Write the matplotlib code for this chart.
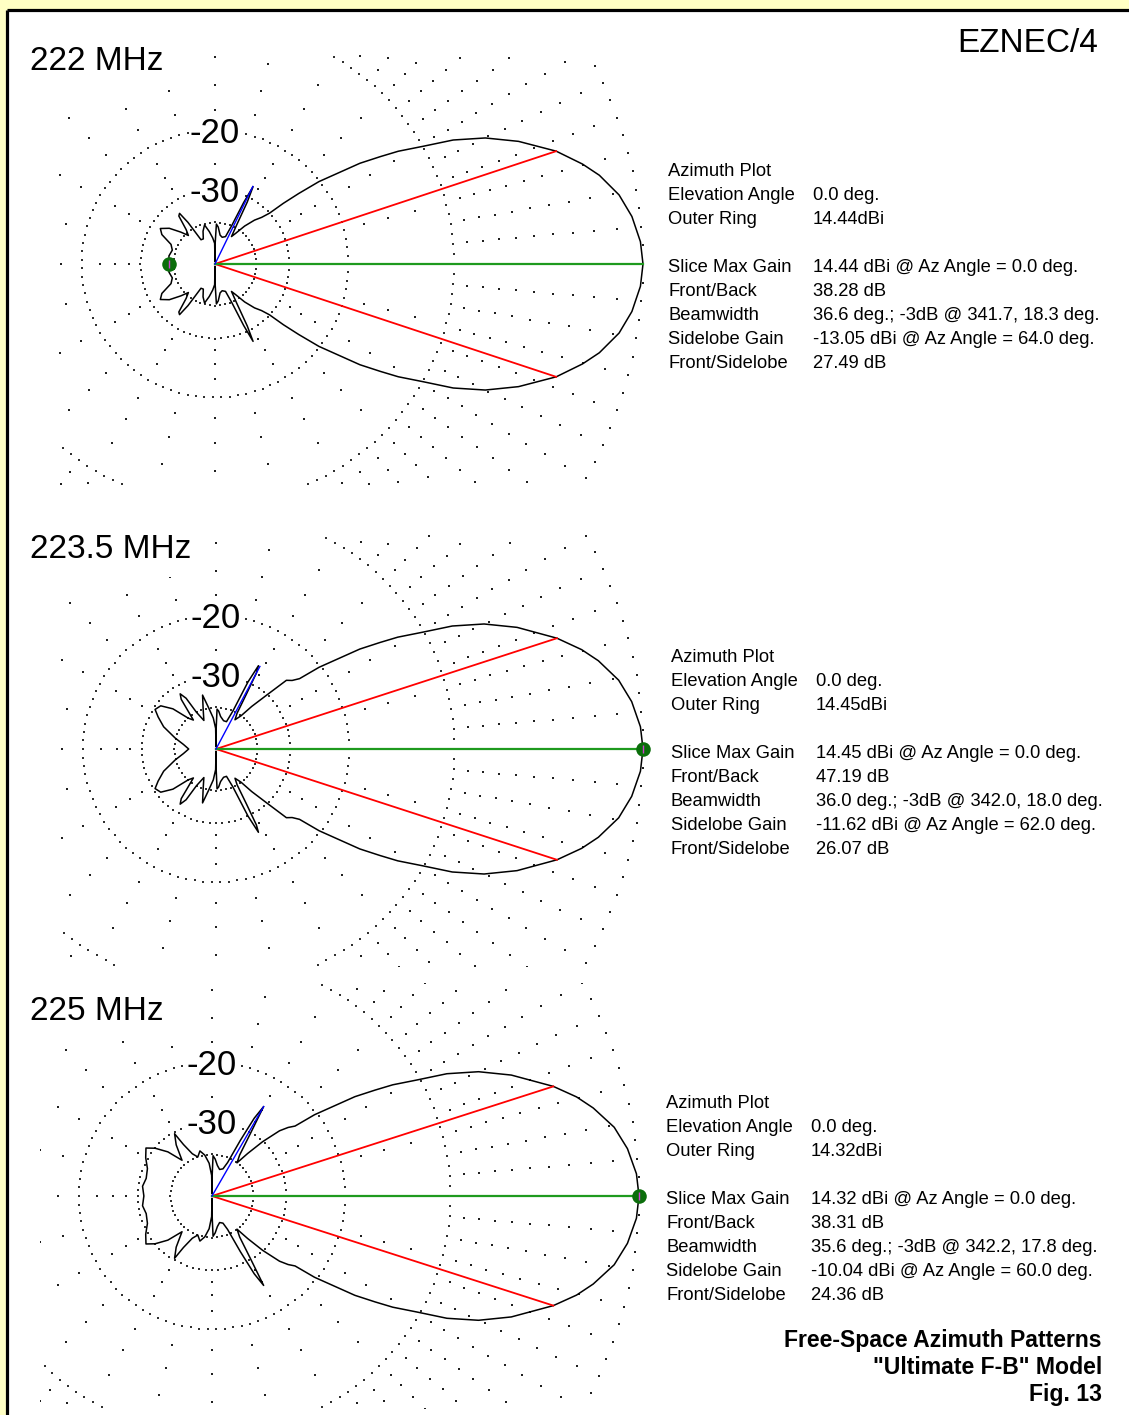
import numpy as np
import matplotlib
matplotlib.use("Agg")
import matplotlib.pyplot as plt

W, H, DPI = 1129, 1415, 100

# ---------------- data ----------------
freq_labels = ["222 MHz", "223.5 MHz", "225 MHz"]

# upper half of each azimuth pattern (azimuth deg, gain relative to max in dB); mirrored for lower half
p1_az = [0, 3, 6.5, 9.7, 13, 15.2, 18.3, 22, 25, 27.5, 29.5, 31.6, 33, 34.8, 38.4, 40.1, 41.6, 43, 45, 48,
         52, 56, 59, 61, 62.5, 63.8, 65, 66.5, 69, 75, 80, 85, 88, 89.5, 90, 91, 95, 100, 105, 110, 115,
         120, 123, 125, 127, 130, 133, 137, 142, 147, 151, 156, 162, 170, 180]
p1_db = [0, -0.08, -0.34, -0.74, -1.4, -2.0, -3.0, -4.6, -6.2, -8.0, -10.0, -11.8, -13.3, -15.2, -20.1,
         -23.4, -26.5, -30.0, -32.1, -34.0, -37.5, -42.0, -44.5, -38.7, -31.1, -27.5, -31.6, -40.0, -46.0,
         -47.0, -46.0, -42.0, -40.7, -52.0, -90.0, -52.0, -48.0, -44.0, -40.5, -43.0, -47.0, -46.8, -37.0,
         -33.2, -33.7, -38.7, -41.1, -38.0, -34.3, -32.3, -33.5, -37.5, -38.7, -38.0, -38.28]

p2_az = [0, 3, 6.5, 9.7, 13, 15.2, 18.0, 22, 25, 27.5, 29.5, 31.6, 33, 34.8, 38.4, 40.1, 42, 44.3, 47, 50,
         53, 57, 59.5, 61, 62, 63, 64.5, 66, 69, 75, 82, 86, 88.5, 89.5, 90, 91, 95, 100, 104, 108, 113,
         118, 120.5, 123, 125, 128, 132, 137, 142, 147, 151, 157, 165, 172, 180]
p2_db = [0, -0.08, -0.35, -0.76, -1.45, -2.05, -3.0, -4.7, -6.3, -8.1, -10.1, -11.9, -13.4, -15.3, -20.2,
         -23.4, -24.5, -25.2, -30.5, -35.0, -40.0, -43.0, -40.0, -33.0, -27.5, -26.07, -30.0, -40.0,
         -46.0, -46.0, -44.0, -41.5, -40.7, -52.0, -90.0, -52.0, -45.0, -40.0, -35.0, -40.0, -45.0,
         -40.0, -34.0, -32.1, -33.5, -42.1, -40.0, -34.0, -31.0, -30.4, -32.0, -34.6, -39.7, -44.0, -47.19]

p3_az = [0, 3, 6.5, 9.7, 13, 15.2, 17.8, 22, 25, 27.5, 29.5, 31.6, 33, 34.8, 38.4, 40.1, 42, 44, 47, 50,
         53, 56, 58.5, 60, 61.5, 63, 65, 68, 74, 80, 85, 88.5, 89.5, 90, 91, 95, 100, 105, 110, 115, 119,
         121, 125, 130, 135, 140, 144, 150, 157, 165, 172, 180]
p3_db = [0, -0.08, -0.36, -0.78, -1.5, -2.1, -3.0, -4.8, -6.4, -8.2, -10.2, -12.0, -13.5, -15.4, -20.3,
         -23.5, -24.5, -26.0, -30.0, -35.0, -40.0, -37.0, -30.0, -24.36, -27.0, -33.0, -42.0, -46.0,
         -47.0, -45.0, -42.0, -40.5, -52.0, -90.0, -52.0, -44.0, -40.0, -38.0, -40.0, -38.0, -34.0,
         -30.4, -33.0, -38.0, -33.0, -30.0, -28.4, -29.5, -31.0, -31.5, -31.0, -31.5]

az_up = [p1_az, p2_az, p3_az]
db_up = [p1_db, p2_db, p3_db]

max_gain = [14.44, 14.45, 14.32]
outer_ring = ["14.44dBi", "14.45dBi", "14.32dBi"]
front_back = [38.28, 47.19, 38.31]
bw_low = [341.7, 342.0, 342.2]
bw_high = [18.3, 18.0, 17.8]
beamwidth = [36.6, 36.0, 35.6]
side_gain = [-13.05, -11.62, -10.04]
side_az = [64.0, 62.0, 60.0]
front_side = [27.49, 26.07, 24.36]
marker_az = [180.0, 0.0, 0.0]
marker_db = [-38.28, 0.0, 0.0]

info_labels = ["Azimuth Plot", "Elevation Angle", "Outer Ring", "", "Slice Max Gain", "Front/Back",
               "Beamwidth", "Sidelobe Gain", "Front/Sidelobe"]

# grid: (levels in dB, angular step deg)
sparse_grid = [([0], 2.5), ([-1, -2, -3, -4, -5, -6, -7, -8, -9], 5),
               ([-12.5, -15, -17.5], 15), ([-22.5, -25, -27.5], 30)]
dense_rings = [-10, -20, -30, -40]
dense_spacing_px = [10, 8.5, 6.5, 5]
ring_labels = [-20, -30]

# ---------------- layout (pixels) ----------------
centers = [(215, 264), (216, 749), (212, 1196)]
R_px = [428, 427, 427]
clips = [(58, 55, 652, 486), (58, 535, 652, 966), (40, 983, 652, 1408)]
title_pos = [(30, 61), (30, 549), (30, 1011)]
info_x = [(668, 813), (671, 816), (666, 811)]
info_y0 = [172, 657, 1103]


def arrl(db):
    db = np.maximum(np.asarray(db, float), -90.0)
    return 0.89 ** (-db / 2.0)


def fx(px):
    return px / W


def fy(py):
    return 1 - py / H


fig = plt.figure(figsize=(W / DPI, H / DPI), dpi=DPI)
fig.patch.set_facecolor("#FFFFC4")
bg = fig.add_axes([0, 0, 1, 1])
bg.set_xlim(0, W)
bg.set_ylim(H, 0)
bg.axis("off")
bg.add_patch(plt.Rectangle((6.5, 9.5), W, H, facecolor="white", edgecolor="none"))
bg.plot([6.5, 6.5], [9.5, H], color="black", lw=2.3, solid_capstyle="butt")
bg.plot([6.5, W], [9.5, 9.5], color="black", lw=2.3, solid_capstyle="butt")

FONT = "Liberation Sans"

for i in range(3):
    cx, cy = centers[i]
    R = R_px[i]
    L, T, Rr, B = clips[i]
    ax = fig.add_axes([fx(L), fy(B), (Rr - L) / W, (B - T) / H])
    ax.set_xlim((L - cx) / R, (Rr - cx) / R)
    ax.set_ylim((cy - B) / R, (cy - T) / R)
    ax.axis("off")
    ax.patch.set_alpha(0)

    # sparse dot grid
    for levels, step in sparse_grid:
        angs = np.deg2rad(np.arange(0, 360, step))
        for lv in levels:
            r = arrl(lv)
            ax.scatter(r * np.cos(angs), r * np.sin(angs), s=1.6, marker="s", color="#202020",
                       linewidths=0, zorder=1)
    # dense dotted rings
    for lv, sp in zip(dense_rings, dense_spacing_px):
        r = arrl(lv)
        n = int(round(2 * np.pi * r * R / sp))
        angs = np.linspace(0, 2 * np.pi, n, endpoint=False)
        ax.scatter(r * np.cos(angs), r * np.sin(angs), s=1.4, marker="s", color="#303030",
                   linewidths=0, zorder=1)
    for lv in ring_labels:
        ax.text(0, arrl(lv) - 3.0 / R, f"{lv}", ha="center", va="center", fontsize=25, family=FONT,
                zorder=2, bbox=dict(facecolor="white", edgecolor="none", pad=0.5))

    # pattern
    a_up = np.array(az_up[i], float)
    d_up = np.array(db_up[i], float)
    az = np.concatenate([a_up, 360 - a_up[::-1][1:]])
    db = np.concatenate([d_up, d_up[::-1][1:]])
    r = arrl(db)
    th = np.deg2rad(az)
    ax.plot(r * np.cos(th), r * np.sin(th), color="black", lw=1.1, zorder=4)

    # -3 dB lines
    r3 = arrl(-3.0)
    for a in (bw_low[i], bw_high[i]):
        t = np.deg2rad(a)
        ax.plot([0, r3 * np.cos(t)], [0, r3 * np.sin(t)], color="#FF0000", lw=1.3, zorder=5)
    # max gain line
    ax.plot([0, 1], [0, 0], color="#1E9A1E", lw=1.6, zorder=5)
    # sidelobe line
    rs = arrl(side_gain[i] - max_gain[i])
    ts = np.deg2rad(side_az[i])
    ax.plot([0, rs * np.cos(ts)], [0, rs * np.sin(ts)], color="#0000FF", lw=1.0, zorder=5)
    # cursor marker
    rm = arrl(marker_db[i])
    tm = np.deg2rad(marker_az[i])
    ax.scatter([rm * np.cos(tm)], [rm * np.sin(tm)], s=110, color="#0B6E0B", zorder=6, linewidths=0,
               clip_on=False)
    ax.scatter([rm * np.cos(tm)], [rm * np.sin(tm)], s=40, marker="|", color="#D040D0", zorder=7,
               linewidths=1.0, clip_on=False)

    # title (with white backing like the pasted label)
    tx, ty = title_pos[i]
    fig.text(fx(tx), fy(ty), freq_labels[i], fontsize=24, family=FONT, ha="left", va="center",
             zorder=10, bbox=dict(facecolor="white", edgecolor="none", pad=9))

    # info block
    values = ["", "0.0 deg.", outer_ring[i], "",
              f"{max_gain[i]:.2f} dBi @ Az Angle = 0.0 deg.",
              f"{front_back[i]:.2f} dB",
              f"{beamwidth[i]:.1f} deg.; -3dB @ {bw_low[i]:.1f}, {bw_high[i]:.1f} deg.",
              f"{side_gain[i]:.2f} dBi @ Az Angle = {side_az[i]:.1f} deg.",
              f"{front_side[i]:.2f} dB"]
    lx, vx = info_x[i]
    y = info_y0[i]
    for lab, val in zip(info_labels, values):
        if lab:
            fig.text(fx(lx), fy(y), lab, fontsize=13.2, family=FONT, ha="left", va="center")
            if val:
                fig.text(fx(vx), fy(y), val, fontsize=13.2, family=FONT, ha="left", va="center")
        y += 24

fig.text(fx(1098), fy(43), "EZNEC/4", fontsize=24, family=FONT, ha="right", va="center")
for k, s in enumerate(["Free-Space Azimuth Patterns", "\"Ultimate F-B\" Model", "Fig. 13"]):
    fig.text(fx(1102), fy(1340 + 27 * k), s, fontsize=16.6, family=FONT, weight="bold",
             ha="right", va="center")

fig.savefig("out.png", dpi=DPI, facecolor=fig.get_facecolor())
